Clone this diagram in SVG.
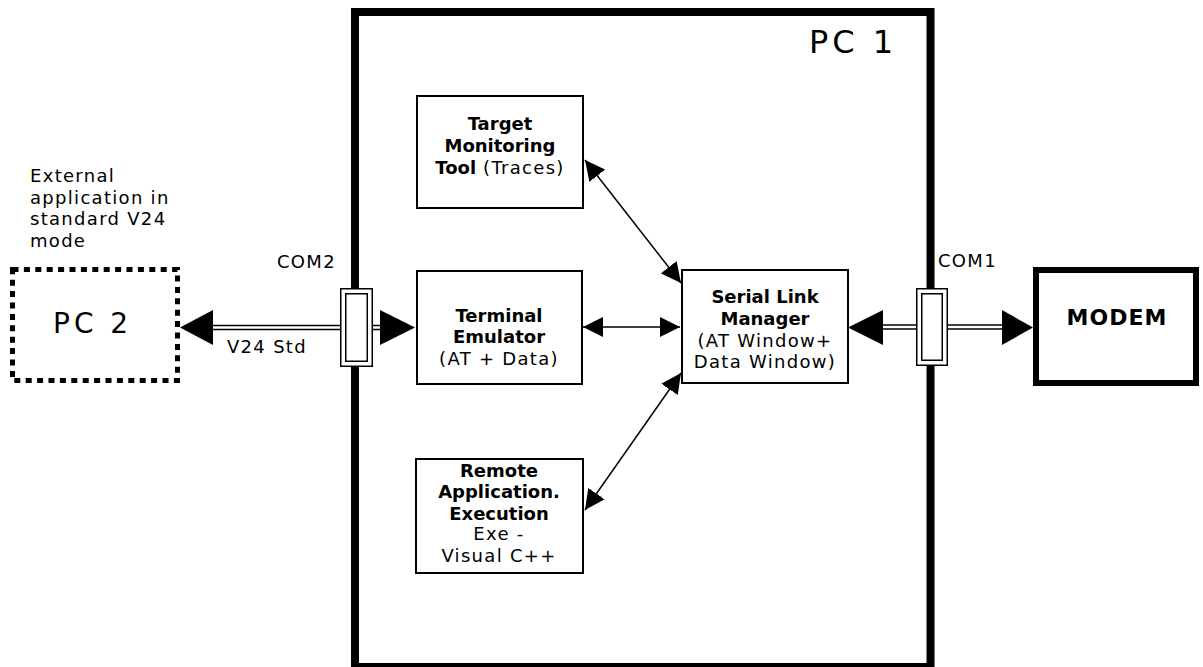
<svg xmlns="http://www.w3.org/2000/svg" width="1203" height="667" viewBox="0 0 1203 667">
<style>
text{font-family:"DejaVu Sans","Liberation Sans",sans-serif;fill:#000}
.b{font-weight:bold;font-size:18px}
.n{font-size:18px;letter-spacing:1.3px}
.box{fill:#fff;stroke:#000;stroke-width:2}
.conn{fill:#fff;stroke:#000;stroke-width:1.5}
.thin{stroke:#000;stroke-width:1.5;fill:none}
.head{fill:#000}
</style>
<defs>
<marker id="ah" viewBox="0 0 20 20" refX="20" refY="10" markerWidth="20" markerHeight="20" markerUnits="userSpaceOnUse" orient="auto-start-reverse">
<path d="M0,0 L20,10 L0,20 z" fill="#000"/>
</marker>
</defs>
<rect width="1203" height="667" fill="#fff"/>

<g id="pc1">
<rect x="355" y="12" width="575.5" height="655" fill="#fff" stroke="#000" stroke-width="8"/>
<text x="809" y="53" style="font-size:32px;letter-spacing:4px">PC 1</text>
</g>

<g id="external-label">
<text class="n" x="30" y="182">External</text>
<text class="n" x="30" y="204">application in</text>
<text class="n" x="30" y="225">standard V24</text>
<text class="n" x="30" y="247">mode</text>
</g>

<g id="pc2">
<rect x="12.5" y="269.5" width="165" height="111" fill="#fff" stroke="#000" stroke-width="5" stroke-dasharray="6 5.4"/>
<text x="53" y="333" style="font-size:28px;letter-spacing:4px">PC 2</text>
</g>

<g id="connectors">
<!-- V24 double line COM2 -->
<line x1="212" y1="327.5" x2="381" y2="327.5" stroke="#000" stroke-width="5.5"/>
<line x1="212" y1="327.5" x2="381" y2="327.5" stroke="#fff" stroke-width="2.5"/>
<polygon class="head" points="180,327.5 213,310 213,345"/>
<polygon class="head" points="415,327.5 380,310 380,345"/>
<!-- COM1 double line -->
<line x1="882" y1="327" x2="1003" y2="327" stroke="#000" stroke-width="5.5"/>
<line x1="882" y1="327" x2="1003" y2="327" stroke="#fff" stroke-width="2.5"/>
<polygon class="head" points="848,327.5 883,310 883,345"/>
<polygon class="head" points="1033,327.5 1002,310 1002,345"/>
<!-- internal arrows -->
<line class="thin" x1="583" y1="327" x2="680" y2="327" marker-start="url(#ah)" marker-end="url(#ah)"/>
<line class="thin" x1="585" y1="160" x2="681" y2="283" marker-start="url(#ah)" marker-end="url(#ah)"/>
<line class="thin" x1="585" y1="510" x2="681" y2="373" marker-start="url(#ah)" marker-end="url(#ah)"/>
</g>

<g id="com2">
<rect class="conn" x="340.75" y="288.75" width="31.5" height="77.5"/>
<rect class="conn" x="345.75" y="293.75" width="21.5" height="67.5"/>
<text class="n" x="277" y="268">COM2</text>
</g>
<text id="v24-label" class="n" x="227" y="353">V24 Std</text>

<g id="com1">
<rect class="conn" x="916.75" y="288.75" width="30.5" height="76.5"/>
<rect class="conn" x="921.75" y="293.75" width="20.5" height="66.5"/>
<text class="n" x="938" y="267">COM1</text>
</g>

<g id="target">
<rect class="box" x="417" y="96" width="166" height="112"/>
<text class="b" x="500" y="130" text-anchor="middle">Target</text>
<text class="b" x="500" y="152" text-anchor="middle">Monitoring</text>
<text x="500" y="174" text-anchor="middle" style="font-size:18px"><tspan font-weight="bold">Tool</tspan><tspan letter-spacing="1.3"> (Traces)</tspan></text>
</g>

<g id="terminal">
<rect class="box" x="417" y="271" width="165" height="113"/>
<text class="b" x="499" y="322" text-anchor="middle">Terminal</text>
<text class="b" x="499" y="343" text-anchor="middle">Emulator</text>
<text class="n" x="499" y="365" text-anchor="middle">(AT + Data)</text>
</g>

<g id="serial">
<rect class="box" x="682" y="270" width="166" height="113"/>
<text class="b" x="765" y="303" text-anchor="middle">Serial Link</text>
<text class="b" x="765" y="325" text-anchor="middle">Manager</text>
<text class="n" x="765" y="347" text-anchor="middle">(AT Window+</text>
<text class="n" x="765" y="368" text-anchor="middle">Data Window)</text>
</g>

<g id="remote">
<rect class="box" x="416" y="459" width="167" height="114"/>
<text class="b" x="499" y="477" text-anchor="middle">Remote</text>
<text class="b" x="499" y="498" text-anchor="middle">Application.</text>
<text class="b" x="499" y="520" text-anchor="middle">Execution</text>
<text class="n" x="499" y="540" text-anchor="middle">Exe -</text>
<text class="n" x="499" y="562" text-anchor="middle">Visual C++</text>
</g>

<g id="modem">
<rect x="1036" y="270" width="160" height="113" fill="#fff" stroke="#000" stroke-width="6"/>
<text x="1117" y="325" text-anchor="middle" style="font-size:22px;font-weight:bold;letter-spacing:1px">MODEM</text>
</g>
</svg>
